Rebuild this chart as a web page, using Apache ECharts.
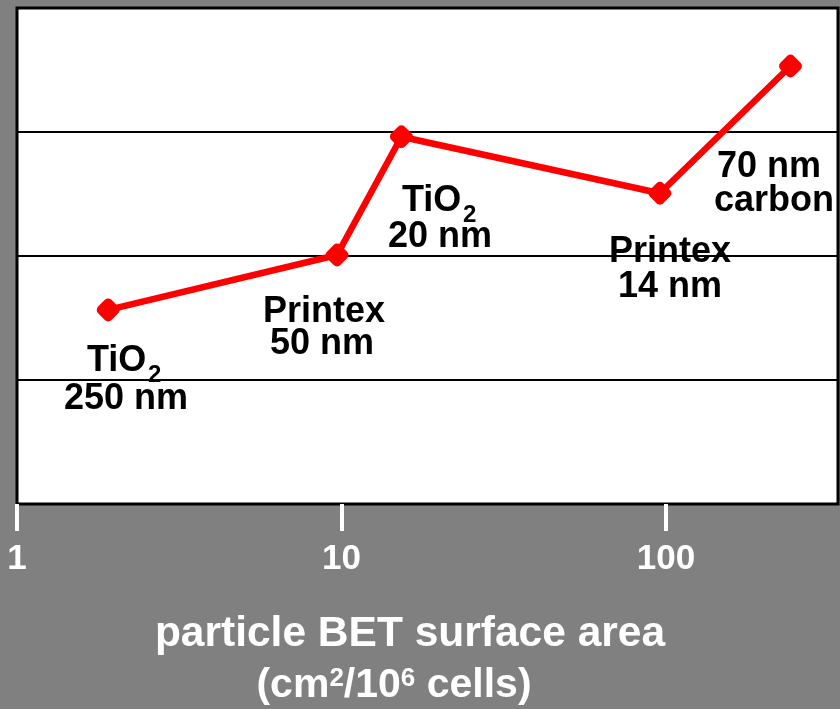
<!DOCTYPE html>
<html>
<head>
<meta charset="utf-8">
<script src="https://cdn.jsdelivr.net/npm/echarts@6/dist/echarts.min.js"></script>
<style>
  html, body { margin: 0; padding: 0; background: #808080; }
  #chart { width: 840px; height: 709px; }
</style>
</head>
<body>
<div id="chart"></div>
<script>
// ---- data ----
const surfaceArea = [1.91, 9.69, 15.3, 95.8, 242];      // cm2 / 10^6 cells (log axis)
const response    = [1.565, 2.008, 2.962, 2.506, 3.532]; // relative response (unlabelled)
const xTickValues = [1, 10, 100];
const titleLine1 = 'particle BET surface area';

const FONT = '"Liberation Sans", Arial, Helvetica, sans-serif';

// annotations near points
const annos = [
  { text: 'TiO', sub: '2', x: 87,  y: 361, subX: 148, subY: 375.5, align: 'left' },
  { text: '250 nm',        x: 126, y: 399, align: 'center' },
  { text: 'Printex',       x: 324, y: 312, align: 'center' },
  { text: '50 nm',         x: 322, y: 344, align: 'center' },
  { text: 'TiO', sub: '2', x: 402, y: 201, subX: 463, subY: 215.5, align: 'left' },
  { text: '20 nm',         x: 440, y: 237, align: 'center' },
  { text: 'Printex',       x: 670, y: 252, align: 'center' },
  { text: '14 nm',         x: 670, y: 287, align: 'center' },
  { text: '70 nm',         x: 717, y: 167, align: 'left' },
  { text: 'carbon',        x: 714, y: 201, align: 'left' }
];

const graphics = [];
annos.forEach(a => {
  graphics.push({
    type: 'text', x: a.x, y: a.y, z: 10,
    style: { text: a.text, font: 'bold 36px ' + FONT, fill: '#000',
             textAlign: a.align, textVerticalAlign: 'middle' }
  });
  if (a.sub) {
    graphics.push({
      type: 'text', x: a.subX, y: a.subY, z: 10,
      style: { text: a.sub, font: 'bold 24px ' + FONT, fill: '#000',
               textAlign: 'left', textVerticalAlign: 'middle' }
    });
  }
});

// axis title
graphics.push({
  type: 'text', x: 410, y: 634, z: 10,
  style: { text: titleLine1, font: 'bold 42.5px ' + FONT, fill: '#fff',
           textAlign: 'center', textVerticalAlign: 'middle' }
});
graphics.push({
  type: 'text', x: 394, y: 686, z: 10,
  style: {
    text: '(cm{sup|2}/10{sup|6} cells)',
    font: 'bold 41px ' + FONT, fill: '#fff', lineHeight: 41,
    textAlign: 'center', textVerticalAlign: 'middle',
    rich: {
      sup: { fontSize: 26, fontWeight: 'bold', fontFamily: FONT, fill: '#fff',
             verticalAlign: 'top', lineHeight: 41 }
    }
  }
});

const chart = echarts.init(document.getElementById('chart'), null, { renderer: 'canvas' });
chart.setOption({
  animation: false,
  backgroundColor: '#808080',
  grid: {
    left: 17, top: 8, right: 2, bottom: 205,
    show: true, backgroundColor: '#ffffff', borderColor: '#000000', borderWidth: 3
  },
  xAxis: {
    type: 'log', logBase: 10, min: 1, max: 339,
    axisLine: { show: false },
    axisTick: { show: true, length: 27, inside: false, customValues: xTickValues,
                lineStyle: { color: '#ffffff', width: 4 } },
    axisLabel: { show: true, margin: 38, customValues: xTickValues,
                 color: '#ffffff', fontSize: 35, fontWeight: 'bold', fontFamily: FONT },
    splitLine: { show: false },
    minorTick: { show: false }
  },
  yAxis: {
    type: 'value', min: 0, max: 4, interval: 1,
    axisLine: { show: false },
    axisTick: { show: false },
    axisLabel: { show: false },
    splitLine: { show: true, lineStyle: { color: '#000000', width: 2 } }
  },
  series: [{
    type: 'line',
    data: surfaceArea.map((v, i) => [v, response[i]]),
    lineStyle: { color: '#ff0000', width: 6.5 },
    itemStyle: { color: '#ff0000' },
    symbol: 'roundRect', symbolSize: 19, symbolRotate: 45,
    showSymbol: true, z: 5
  }],
  graphic: graphics
});
</script>
</body>
</html>
